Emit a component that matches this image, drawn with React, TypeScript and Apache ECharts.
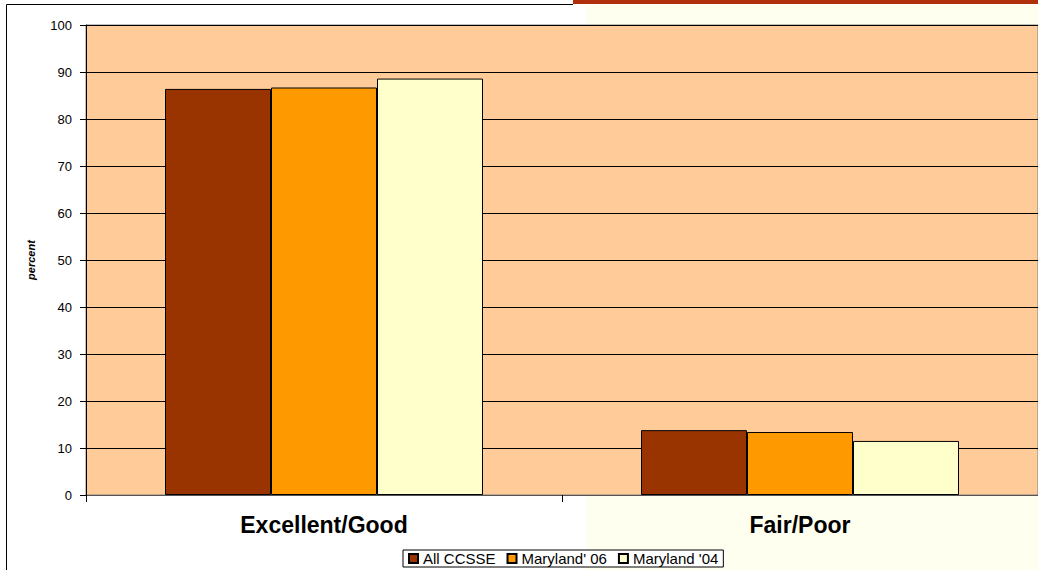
import React, { useEffect, useRef } from "react";
import * as echarts from "echarts";

const categories = ["Excellent/Good", "Fair/Poor"];
const seriesNames = ["All CCSSE", "Maryland' 06", "Maryland '04"];
const allCCSSE = [86.4, 13.8];
const maryland06 = [86.7, 13.4];
const maryland04 = [88.6, 11.5];
const seriesColors = ["#993300", "#FF9900", "#FFFFCC"];

export default function App() {
  const ref = useRef<HTMLDivElement>(null);
  useEffect(() => {
    if (!ref.current) return;
    const chart = echarts.init(ref.current, undefined, { renderer: "svg" });
    const values = [allCCSSE, maryland06, maryland04];
    chart.setOption({
      animation: false,
      backgroundColor: "#FFFFFF",
      graphic: [
        { type: "rect", z: -10, shape: { x: 586, y: 5, width: 452, height: 565 }, style: { fill: "#FFFFF0" } },
        { type: "rect", z: 10, shape: { x: 573, y: 0, width: 465, height: 4 }, style: { fill: "#B0300E" } },
        { type: "line", z: 10, shape: { x1: 6.5, y1: 4.5, x2: 573, y2: 4.5 }, style: { stroke: "#000", lineWidth: 1 } },
        { type: "line", z: 10, shape: { x1: 6.5, y1: 4.5, x2: 6.5, y2: 570 }, style: { stroke: "#000", lineWidth: 1 } },
      ],
      grid: {
        left: 86,
        top: 25,
        right: 0,
        bottom: 75,
        show: true,
        backgroundColor: "#FFCC99",
        borderColor: "#808080",
        borderWidth: 1,
      },
      legend: {
        data: seriesNames,
        left: 403,
        top: 550,
        orient: "horizontal",
        borderColor: "#000",
        borderWidth: 1,
        padding: [1, 5, 1, 5],
        itemGap: 11,
        itemWidth: 9,
        itemHeight: 9,
        icon: "rect",
        backgroundColor: "#FFFFFF",
        textStyle: { fontFamily: "Liberation Sans, Arial", fontSize: 15, color: "#000" },
      },
      xAxis: {
        type: "category",
        data: categories,
        axisLine: { show: true, lineStyle: { color: "#555", width: 1 } },
        axisTick: { show: true, length: 7, lineStyle: { color: "#000" } },
        axisLabel: {
          fontFamily: "Liberation Sans, Arial",
          fontWeight: "bold",
          fontSize: 23,
          color: "#000",
          margin: 18,
        },
      },
      yAxis: {
        type: "value",
        min: 0,
        max: 100,
        interval: 10,
        name: "percent",
        nameLocation: "middle",
        nameRotate: 90,
        nameGap: 50,
        nameTextStyle: { fontFamily: "Liberation Sans, Arial", fontStyle: "italic", fontWeight: "bold", fontSize: 11, color: "#000" },
        axisLine: { show: true, lineStyle: { color: "#000", width: 1 } },
        axisTick: { show: true, length: 6, lineStyle: { color: "#000" } },
        axisLabel: { fontFamily: "Liberation Sans, Arial", fontSize: 13, color: "#000", margin: 14 },
        splitLine: { show: true, lineStyle: { color: "#000", width: 1 } },
      },
      series: seriesNames.map((name, i) => ({
        name,
        type: "bar",
        data: values[i],
        barWidth: 106,
        barGap: "0%",
        itemStyle: { color: seriesColors[i], borderColor: "#000", borderWidth: 1 },
      })),
    });
    return () => chart.dispose();
  }, []);
  return (
    <div
      ref={ref}
      style={{ position: "absolute", left: 0, top: 0, width: 1038, height: 570 }}
    />
  );
}
